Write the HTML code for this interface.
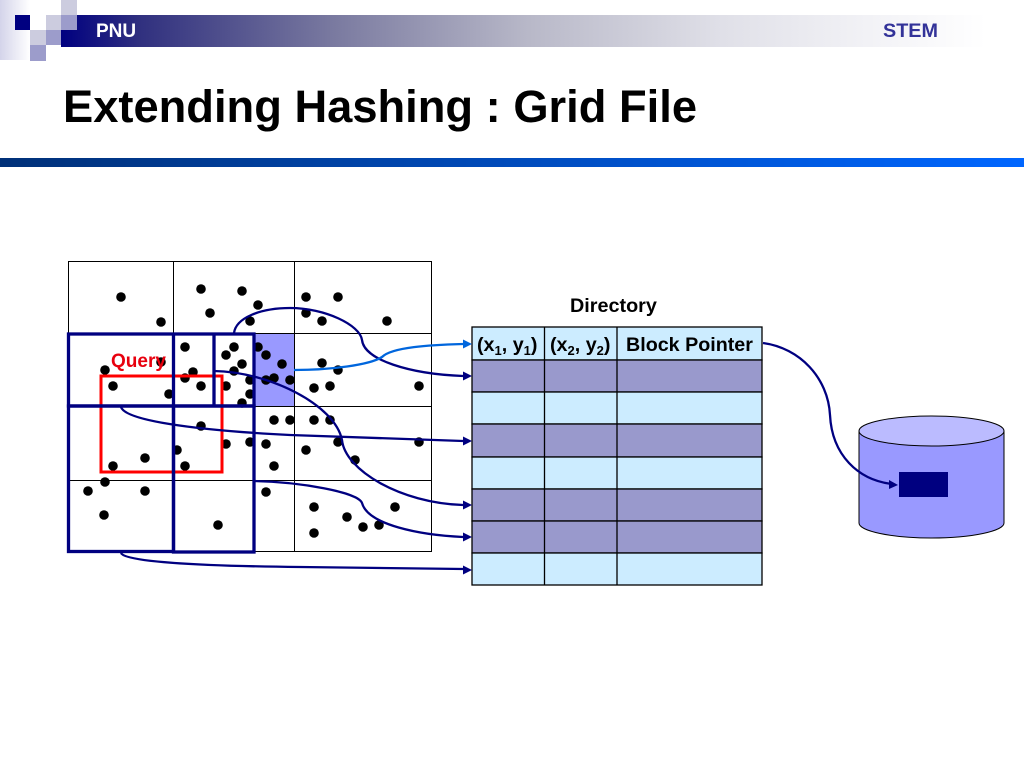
<!DOCTYPE html>
<html><head><meta charset="utf-8"><style>
html,body{margin:0;padding:0;background:#fff}
svg{display:block}
text{font-family:"Liberation Sans",Arial,sans-serif}
</style></head><body>
<svg xmlns="http://www.w3.org/2000/svg" width="1024" height="768" viewBox="0 0 1024 768">
<defs>
<linearGradient id="hb" x1="0" x2="1" y1="0" y2="0"><stop offset="0" stop-color="#000080"/><stop offset="0.085" stop-color="#30307f"/><stop offset="0.19" stop-color="#55558f"/><stop offset="0.295" stop-color="#7a7aa0"/><stop offset="0.505" stop-color="#b8b8c8"/><stop offset="0.715" stop-color="#e0e0e8"/><stop offset="0.872" stop-color="#f2f2f6"/><stop offset="1" stop-color="#ffffff"/></linearGradient>
<linearGradient id="ls" x1="0" x2="1" y1="0" y2="0"><stop offset="0" stop-color="#d4d4ea"/><stop offset="1" stop-color="#ffffff"/></linearGradient>
<linearGradient id="bar" x1="0" x2="1" y1="0" y2="0"><stop offset="0" stop-color="#003078"/><stop offset="1" stop-color="#0066ff"/></linearGradient>
</defs>
<rect width="1024" height="768" fill="#fff"/>
<rect x="0" y="0" width="30" height="60" fill="url(#ls)"/>
<rect x="61" y="15" width="925" height="32" fill="url(#hb)"/>
<rect x="15" y="15" width="15" height="15" fill="#000080"/>
<rect x="30" y="15" width="16" height="15" fill="#fff"/>
<rect x="46" y="15" width="15" height="15" fill="#ccccdf"/>
<rect x="61" y="15" width="16" height="15" fill="#9c9ccb"/>
<rect x="61" y="0" width="16" height="15" fill="#ccccdf"/>
<rect x="30" y="30" width="16" height="15" fill="#ccccdf"/>
<rect x="46" y="30" width="15" height="15" fill="#9c9ccb"/>
<rect x="30" y="45" width="16" height="16" fill="#9c9ccb"/>
<text x="96" y="37" font-size="19" font-weight="bold" fill="#fff">PNU</text>
<text x="883" y="37" font-size="19.800" font-weight="bold" fill="#333399">STEM</text>
<text x="63" y="122" font-size="45.500" font-weight="bold" fill="#000" textLength="634" lengthAdjust="spacingAndGlyphs">Extending Hashing : Grid File</text>
<rect x="0" y="158" width="1024" height="9" fill="url(#bar)"/>

<!-- grid -->
<rect x="254" y="333" width="40" height="73" fill="#9999ff"/>
<g fill="none" stroke="#000" stroke-width="1">
<rect x="68.500" y="261.500" width="363" height="290"/>
<path d="M173.500 261V552M294.500 261V552M68 333.500H432M68 406.500H432M68 480.500H432"/>
</g>

<!-- dots -->
<g fill="#000">
<circle cx="121" cy="297" r="4.800"/><circle cx="161" cy="322" r="4.800"/><circle cx="201" cy="289" r="4.800"/><circle cx="242" cy="291" r="4.800"/><circle cx="258" cy="305" r="4.800"/><circle cx="210" cy="313" r="4.800"/><circle cx="250" cy="321" r="4.800"/>
<circle cx="185" cy="347" r="4.800"/><circle cx="234" cy="347" r="4.800"/><circle cx="226" cy="355" r="4.800"/><circle cx="258" cy="347" r="4.800"/><circle cx="266" cy="355" r="4.800"/><circle cx="242" cy="364" r="4.800"/><circle cx="282" cy="364" r="4.800"/><circle cx="234" cy="371" r="4.800"/><circle cx="193" cy="372" r="4.800"/><circle cx="185" cy="378" r="4.800"/><circle cx="105" cy="370" r="4.800"/><circle cx="113" cy="386" r="4.800"/><circle cx="161" cy="362" r="4.800"/><circle cx="169" cy="394" r="4.800"/><circle cx="201" cy="386" r="4.800"/><circle cx="226" cy="386" r="4.800"/><circle cx="250" cy="380" r="4.800"/><circle cx="266" cy="380" r="4.800"/><circle cx="274" cy="378" r="4.800"/><circle cx="290" cy="380" r="4.800"/><circle cx="250" cy="394" r="4.800"/><circle cx="242" cy="403" r="4.800"/>
<circle cx="306" cy="297" r="4.800"/><circle cx="338" cy="297" r="4.800"/><circle cx="306" cy="313" r="4.800"/><circle cx="322" cy="321" r="4.800"/><circle cx="387" cy="321" r="4.800"/><circle cx="322" cy="363" r="4.800"/><circle cx="338" cy="370" r="4.800"/><circle cx="314" cy="388" r="4.800"/><circle cx="330" cy="386" r="4.800"/><circle cx="419" cy="386" r="4.800"/><circle cx="314" cy="420" r="4.800"/><circle cx="330" cy="420" r="4.800"/>
<circle cx="274" cy="420" r="4.800"/><circle cx="290" cy="420" r="4.800"/><circle cx="201" cy="426" r="4.800"/><circle cx="226" cy="444" r="4.800"/><circle cx="250" cy="442" r="4.800"/><circle cx="266" cy="444" r="4.800"/><circle cx="177" cy="450" r="4.800"/><circle cx="145" cy="458" r="4.800"/><circle cx="113" cy="466" r="4.800"/><circle cx="185" cy="466" r="4.800"/><circle cx="274" cy="466" r="4.800"/><circle cx="105" cy="482" r="4.800"/><circle cx="88" cy="491" r="4.800"/><circle cx="145" cy="491" r="4.800"/><circle cx="266" cy="492" r="4.800"/><circle cx="104" cy="515" r="4.800"/><circle cx="218" cy="525" r="4.800"/>
<circle cx="338" cy="442" r="4.800"/><circle cx="419" cy="442" r="4.800"/><circle cx="306" cy="450" r="4.800"/><circle cx="355" cy="460" r="4.800"/><circle cx="314" cy="507" r="4.800"/><circle cx="395" cy="507" r="4.800"/><circle cx="347" cy="517" r="4.800"/><circle cx="363" cy="527" r="4.800"/><circle cx="379" cy="525" r="4.800"/><circle cx="314" cy="533" r="4.800"/>
</g>

<text x="111" y="367" font-size="19" font-weight="bold" fill="#e8000e">Query</text>

<!-- red query -->
<rect x="101" y="376" width="121" height="96" fill="none" stroke="#ff0000" stroke-width="3"/>

<!-- navy regions -->
<g fill="none" stroke="#000080" stroke-width="3.300">
<rect x="68.500" y="334" width="185.500" height="72"/>
<path d="M173.500 334V406M214 334V406"/>
<rect x="68.500" y="406" width="105" height="145.500"/>
<rect x="173.500" y="406" width="80.500" height="146"/>
</g>

<!-- table -->
<g stroke="#000" stroke-width="1.300">
<rect x="472" y="327" width="290" height="33" fill="#ccecff"/>
<rect x="472" y="360" width="290" height="32" fill="#9999cc"/>
<rect x="472" y="392" width="290" height="32" fill="#ccecff"/>
<rect x="472" y="424" width="290" height="33" fill="#9999cc"/>
<rect x="472" y="457" width="290" height="32" fill="#ccecff"/>
<rect x="472" y="489" width="290" height="32" fill="#9999cc"/>
<rect x="472" y="521" width="290" height="32" fill="#9999cc"/>
<rect x="472" y="553" width="290" height="32" fill="#ccecff"/>
<path d="M544.500 327V585M617 327V585" fill="none"/>
</g>
<text x="570" y="312" font-size="19.800" font-weight="bold" fill="#000">Directory</text>
<text x="477" y="351" font-size="19.700" font-weight="bold" fill="#000">(x<tspan font-size="13" dy="4">1</tspan><tspan dy="-4">, y</tspan><tspan font-size="13" dy="4">1</tspan><tspan dy="-4">)</tspan></text>
<text x="550" y="351" font-size="19.700" font-weight="bold" fill="#000">(x<tspan font-size="13" dy="4">2</tspan><tspan dy="-4">, y</tspan><tspan font-size="13" dy="4">2</tspan><tspan dy="-4">)</tspan></text>
<text x="626" y="351" font-size="19.700" font-weight="bold" fill="#000">Block Pointer</text>

<!-- cylinder -->
<path d="M859 431V523C859 531 891 538 931.500 538C972 538 1004 531 1004 523V431Z" fill="#9999ff" stroke="#000" stroke-width="1"/>
<ellipse cx="931.500" cy="431" rx="72.500" ry="15" fill="#bbbbff" stroke="#000" stroke-width="1"/>
<rect x="899" y="472" width="49" height="25" fill="#000080"/>

<!-- connectors -->
<g fill="none" stroke="#000080" stroke-width="2.300">
<path d="M234 333C236 318 260 308 290 308C325 308 360 325 362 340C364 360 410 374 463 376"/>
<path d="M214 371C270 372 335 405 342 440C345 470 400 503 463 505"/>
<path d="M121 407C125 420 190 430 290 435L463 441"/>
<path d="M254 481C300 482 358 492 362 503C368 525 420 535 463 537"/>
<path d="M121 553C125 562 200 566 300 567L463 569"/>
<path d="M763 343C800 348 828 378 830 415C832 455 858 480 892 484"/>
</g>
<path d="M294 370C330 370 370 365 382 357C392 347 430 345 463 344" fill="none" stroke="#0066dd" stroke-width="2.300"/>
<g fill="#000080">
<path d="M472 376L463 371.500V380.500Z"/>
<path d="M472 505L463 500.500V509.500Z"/>
<path d="M472 441L463 436.500V445.500Z"/>
<path d="M472 537L463 532.500V541.500Z"/>
<path d="M472 570L463 565.500V574.500Z"/>
<path d="M898 485L889 480V489Z"/>
</g>
<path d="M472 344L463 339.500V348.500Z" fill="#0066dd"/>
</svg>
</body></html>
